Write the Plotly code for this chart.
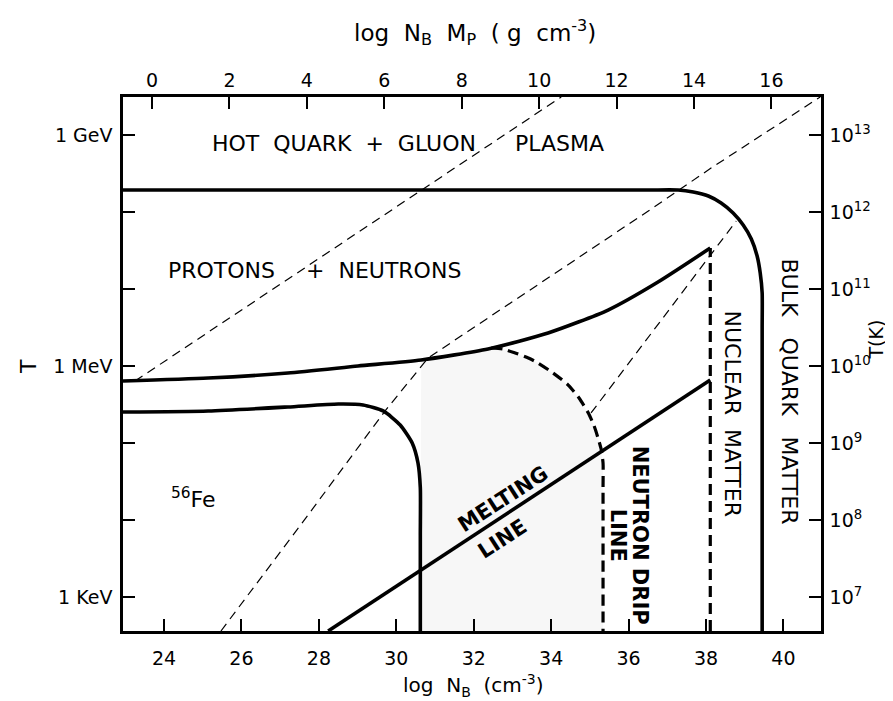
import plotly.graph_objects as go

# ---------------- axis definitions ----------------
x_range = [22.94, 40.97]          # log N_B (cm^-3)
top_shift = 23.69                 # log N_B M_P = log N_B - top_shift
y_range = [2.558, 9.494]          # log10(T / eV)

bottom_ticks = [24, 26, 28, 30, 32, 34, 36, 38, 40]
top_ticks = [0, 2, 4, 6, 8, 10, 12, 14, 16]
left_tickvals = [3, 6, 9]
left_ticktext = ["1 KeV", "1 MeV", "1 GeV"]
right_tickvals = [3, 4, 5, 6, 7, 8, 9]
right_ticktext = ["10<sup>7</sup>", "10<sup>8</sup>", "10<sup>9</sup>", "10<sup>10</sup>",
                  "10<sup>11</sup>", "10<sup>12</sup>", "10<sup>13</sup>"]

# ---------------- phase boundaries (solid) ----------------
qgp_x = [22.94, 27.72, 32.89, 36.51, 37.28, 37.67, 38.06, 38.39, 38.70, 38.96, 39.17,
         39.32, 39.40, 39.45, 39.45, 39.45, 39.45]
qgp_y = [8.286, 8.286, 8.286, 8.286, 8.286, 8.260, 8.208, 8.117, 7.987, 7.831, 7.649,
         7.429, 7.208, 6.948, 6.494, 4.805, 2.558]

nucleon_x = [22.94, 25.14, 27.20, 29.01, 30.64, 32.37, 33.92, 35.47, 36.76, 38.11]
nucleon_y = [5.805, 5.844, 5.909, 6.000, 6.078, 6.221, 6.429, 6.727, 7.091, 7.532]

fe_x = [22.94, 25.14, 27.20, 28.50, 29.14, 29.66, 30.10, 30.41, 30.56, 30.62, 30.62, 30.62]
fe_y = [5.403, 5.416, 5.468, 5.506, 5.494, 5.416, 5.234, 5.000, 4.740, 4.416, 3.800, 2.558]

melting_x = [28.24, 38.11]
melting_y = [2.558, 5.818]

# ---------------- thick dashed lines ----------------
nuclear_x = [38.11, 38.11]
nuclear_y = [2.558, 7.532]

drip_x = [32.45, 32.76, 33.07, 33.41, 33.66, 34.05, 34.44, 34.72, 34.96, 35.11, 35.21,
          35.29, 35.34, 35.34, 35.34]
drip_y = [6.234, 6.221, 6.169, 6.104, 6.039, 5.909, 5.753, 5.584, 5.390, 5.221, 5.065,
          4.922, 4.740, 4.416, 2.558]

# ---------------- thin dashed lines ----------------
dashA_x = [23.25, 34.26]
dashA_y = [5.805, 9.494]

dashB_x = [25.47, 27.72, 29.71, 30.82, 36.51, 38.13, 40.95]
dashB_y = [2.558, 4.065, 5.416, 6.104, 8.013, 8.571, 9.494]

dashC_x = [35.03, 38.78]
dashC_y = [5.390, 7.883]

FONT = "DejaVu Sans"
fig = go.Figure()

# faint shading of the neutron-drip region
sel = [i for i, v in enumerate(nucleon_x) if fe_x[-1] <= v <= drip_x[0]]
shade_x = [fe_x[-1]] + [nucleon_x[i] for i in sel] + drip_x
shade_y = [y_range[0]] + [nucleon_y[i] for i in sel] + drip_y
fig.add_trace(go.Scatter(x=shade_x, y=shade_y, fill="toself", mode="none",
                         fillcolor="rgba(0,0,0,0.03)", hoverinfo="skip"))

thick = dict(color="black", width=3.6)
for xs, ys, shp in [(qgp_x, qgp_y, "spline"), (nucleon_x, nucleon_y, "spline"),
                    (fe_x, fe_y, "spline"), (melting_x, melting_y, "linear")]:
    fig.add_trace(go.Scatter(x=xs, y=ys, mode="lines",
                             line=dict(**thick, shape=shp, smoothing=0.6),
                             hoverinfo="skip"))

for xs, ys, shp in [(nuclear_x, nuclear_y, "linear"), (drip_x, drip_y, "spline")]:
    fig.add_trace(go.Scatter(x=xs, y=ys, mode="lines",
                             line=dict(color="black", width=3.2, dash="11px,6px",
                                       shape=shp, smoothing=0.6),
                             hoverinfo="skip"))

for xs, ys in [(dashA_x, dashA_y), (dashB_x, dashB_y), (dashC_x, dashC_y)]:
    fig.add_trace(go.Scatter(x=xs, y=ys, mode="lines",
                             line=dict(color="black", width=1.2, dash="9px,6px"),
                             hoverinfo="skip"))

# invisible trace to activate the top / right axes
fig.add_trace(go.Scatter(x=[x_range[0] - top_shift, x_range[1] - top_shift], y=y_range,
                         xaxis="x2", yaxis="y2", mode="markers",
                         marker=dict(opacity=0), hoverinfo="skip"))

axis_common = dict(showline=True, linewidth=2.5, linecolor="black", ticks="inside",
                   ticklen=12, tickwidth=1.5, tickcolor="black", showgrid=False,
                   zeroline=False, tickfont=dict(family=FONT, size=19, color="black"))

fig.update_layout(
    width=893, height=701,
    margin=dict(l=115, r=80, t=89, b=78),
    paper_bgcolor="white", plot_bgcolor="white",
    showlegend=False,
    xaxis=dict(range=x_range, tickvals=bottom_ticks, ticklabelstandoff=8, **axis_common),
    xaxis2=dict(range=[x_range[0] - top_shift, x_range[1] - top_shift], overlaying="x",
                side="top", tickvals=top_ticks, ticklabelstandoff=0, **axis_common),
    yaxis=dict(range=y_range, tickvals=left_tickvals, ticktext=left_ticktext,
               ticklabelstandoff=4,
               minor=dict(ticks="inside", ticklen=12, tickwidth=1.5, tickcolor="black",
                          tick0=3, dtick=1, showgrid=False),
               **axis_common),
    yaxis2=dict(range=y_range, overlaying="y", side="right", tickvals=right_tickvals,
                ticktext=right_ticktext, ticklabelstandoff=2, **axis_common),
)


def px(xp):
    return (xp - 115) / 697.5


def py(yp):
    return (623 - yp) / 534


def label(text, xp, yp, size=22, angle=0, bold=False):
    if bold:
        text = "<b>" + text + "</b>"
    fig.add_annotation(text=text, x=px(xp), y=py(yp), xref="paper", yref="paper",
                       xanchor="center", yanchor="middle",
                       showarrow=False, textangle=angle,
                       font=dict(family=FONT, size=size, color="black"))


label("log  N<sub>B</sub>  M<sub>P</sub>  ( g  cm<sup>-3</sup>)", 467, 24, size=23)
label("log  N<sub>B</sub>  (cm<sup>-3</sup>)", 465, 677, size=20)
label("T", 20, 358, size=22, angle=-90)
label("T(K)", 867, 332, size=19, angle=-90)

label("HOT  QUARK  +  GLUON", 336, 135)
label("PLASMA", 551, 135)
label("PROTONS", 213, 262)
label("+  NEUTRONS", 375, 262)
label("<sup>56</sup>Fe", 185, 490)
label("MELTING", 495, 491, size=21, angle=-33, bold=True)
label("LINE", 494, 531, size=21, angle=-33, bold=True)
label("NEUTRON DRIP", 632, 527, size=21, angle=90, bold=True)
label("LINE", 610, 527, size=21, angle=90, bold=True)
label("NUCLEAR  MATTER", 725, 406, angle=90)
label("BULK   QUARK   MATTER", 782, 384, angle=90)

fig.write_html("out.html")
